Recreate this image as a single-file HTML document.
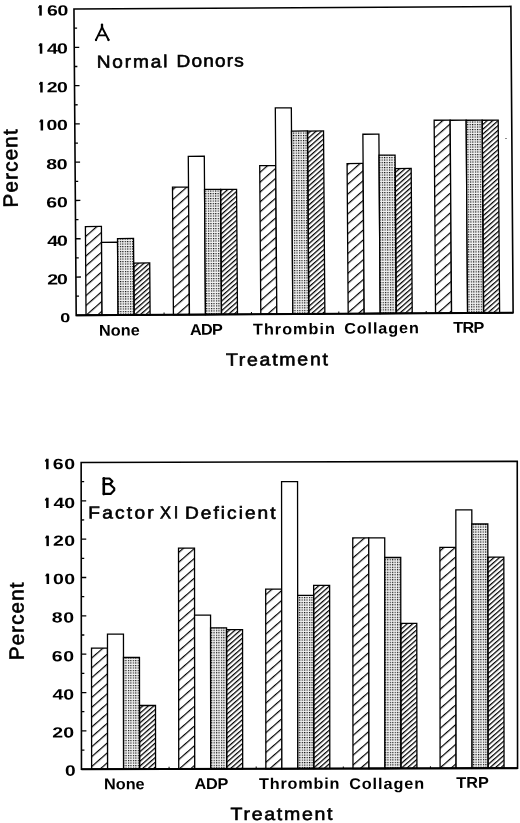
<!DOCTYPE html>
<html><head><meta charset="utf-8"><style>
html,body{margin:0;padding:0;background:#fff;}
svg{display:block;will-change:transform;}
text{font-family:"Liberation Sans",sans-serif;fill:#000;text-rendering:geometricPrecision;}
</style></head><body>
<svg width="520" height="823" viewBox="0 0 520 823">
<rect width="520" height="823" fill="#fff"/>
<defs><pattern id="h1A" patternUnits="userSpaceOnUse" width="20" height="7.434" patternTransform="rotate(-41) translate(0,-0.6)"><rect x="0" y="0" width="20" height="1.2" fill="#000"/></pattern><pattern id="h1B" patternUnits="userSpaceOnUse" width="20" height="7.434" patternTransform="rotate(-41) translate(0,-2.41)"><rect x="0" y="0" width="20" height="1.2" fill="#000"/></pattern><pattern id="h2A" patternUnits="userSpaceOnUse" width="20" height="3.62" patternTransform="rotate(-41) translate(0,1.08)"><rect x="0" y="0" width="20" height="1.25" fill="#000"/></pattern><pattern id="h2B" patternUnits="userSpaceOnUse" width="20" height="3.62" patternTransform="rotate(-41) translate(0,-0.98)"><rect x="0" y="0" width="20" height="1.25" fill="#000"/></pattern>
<pattern id="dots" patternUnits="userSpaceOnUse" width="2.45" height="2.5">
<rect x="0" y="0" width="2.45" height="2.5" fill="#f0f0f0"/>
<rect x="0" y="0" width="1.15" height="1.15" fill="#000"/></pattern>
</defs>
<g transform="matrix(1.000974,-0.006071,0.007257,0.998858,73.962,9.075)">
<rect x="9.85" y="217.78" width="16.00" height="88.82" fill="url(#h1A)" stroke="#000" stroke-width="1.3"/>
<rect x="25.85" y="233.70" width="16.00" height="72.90" fill="#fff" stroke="#000" stroke-width="1.3"/>
<rect x="41.85" y="229.99" width="16.00" height="76.61" fill="url(#dots)" stroke="#000" stroke-width="1.3"/>
<rect x="57.85" y="254.62" width="16.00" height="51.98" fill="url(#h2A)" stroke="#000" stroke-width="1.3"/>
<rect x="97.14" y="178.87" width="16.00" height="127.73" fill="url(#h1A)" stroke="#000" stroke-width="1.3"/>
<rect x="113.14" y="148.13" width="16.00" height="158.47" fill="#fff" stroke="#000" stroke-width="1.3"/>
<rect x="129.14" y="181.36" width="16.00" height="125.24" fill="url(#dots)" stroke="#000" stroke-width="1.3"/>
<rect x="145.14" y="181.46" width="16.00" height="125.14" fill="url(#h2A)" stroke="#000" stroke-width="1.3"/>
<rect x="184.43" y="157.87" width="16.00" height="148.73" fill="url(#h1A)" stroke="#000" stroke-width="1.3"/>
<rect x="200.43" y="100.20" width="16.00" height="206.40" fill="#fff" stroke="#000" stroke-width="1.3"/>
<rect x="216.43" y="123.43" width="16.00" height="183.17" fill="url(#dots)" stroke="#000" stroke-width="1.3"/>
<rect x="232.43" y="123.53" width="16.00" height="183.07" fill="url(#h2A)" stroke="#000" stroke-width="1.3"/>
<rect x="271.72" y="156.30" width="16.00" height="150.30" fill="url(#h1A)" stroke="#000" stroke-width="1.3"/>
<rect x="287.72" y="127.07" width="16.00" height="179.53" fill="#fff" stroke="#000" stroke-width="1.3"/>
<rect x="303.72" y="148.09" width="16.00" height="158.51" fill="url(#dots)" stroke="#000" stroke-width="1.3"/>
<rect x="319.72" y="161.60" width="16.00" height="145.00" fill="url(#h2A)" stroke="#000" stroke-width="1.3"/>
<rect x="359.01" y="113.48" width="16.00" height="193.12" fill="url(#h1A)" stroke="#000" stroke-width="1.3"/>
<rect x="375.01" y="113.58" width="16.00" height="193.02" fill="#fff" stroke="#000" stroke-width="1.3"/>
<rect x="391.01" y="113.68" width="16.00" height="192.92" fill="url(#dots)" stroke="#000" stroke-width="1.3"/>
<rect x="407.01" y="113.77" width="16.00" height="192.83" fill="url(#h2A)" stroke="#000" stroke-width="1.3"/>
<rect x="0" y="0" width="436.5" height="306.6" fill="none" stroke="#000" stroke-width="1.6"/>
<line x1="0" y1="306.6" x2="436.5" y2="306.6" stroke="#000" stroke-width="2.0"/>
<line x1="0" y1="287.44" x2="3" y2="287.44" stroke="#000" stroke-width="1.3"/>
<line x1="0" y1="268.28" x2="5" y2="268.28" stroke="#000" stroke-width="1.3"/>
<line x1="0" y1="249.11" x2="3" y2="249.11" stroke="#000" stroke-width="1.3"/>
<line x1="0" y1="229.95" x2="5" y2="229.95" stroke="#000" stroke-width="1.3"/>
<line x1="0" y1="210.79" x2="3" y2="210.79" stroke="#000" stroke-width="1.3"/>
<line x1="0" y1="191.62" x2="5" y2="191.62" stroke="#000" stroke-width="1.3"/>
<line x1="0" y1="172.46" x2="3" y2="172.46" stroke="#000" stroke-width="1.3"/>
<line x1="0" y1="153.30" x2="5" y2="153.30" stroke="#000" stroke-width="1.3"/>
<line x1="0" y1="134.14" x2="3" y2="134.14" stroke="#000" stroke-width="1.3"/>
<line x1="0" y1="114.98" x2="5" y2="114.98" stroke="#000" stroke-width="1.3"/>
<line x1="0" y1="95.81" x2="3" y2="95.81" stroke="#000" stroke-width="1.3"/>
<line x1="0" y1="76.65" x2="5" y2="76.65" stroke="#000" stroke-width="1.3"/>
<line x1="0" y1="57.49" x2="3" y2="57.49" stroke="#000" stroke-width="1.3"/>
<line x1="0" y1="38.32" x2="5" y2="38.32" stroke="#000" stroke-width="1.3"/>
<line x1="0" y1="19.16" x2="3" y2="19.16" stroke="#000" stroke-width="1.3"/>
<line x1="87.79" y1="306.6" x2="87.79" y2="304.40000000000003" stroke="#000" stroke-width="1"/>
<line x1="175.08" y1="306.6" x2="175.08" y2="304.40000000000003" stroke="#000" stroke-width="1"/>
<line x1="262.37" y1="306.6" x2="262.37" y2="304.40000000000003" stroke="#000" stroke-width="1"/>
<line x1="349.66" y1="306.6" x2="349.66" y2="304.40000000000003" stroke="#000" stroke-width="1"/>
</g>
<g transform="matrix(0.999084,-0.002520,0.000978,1.000652,81.150,462.450)">
<rect x="10.18" y="185.67" width="16.00" height="120.93" fill="url(#h1B)" stroke="#000" stroke-width="1.3"/>
<rect x="26.18" y="171.72" width="16.00" height="134.88" fill="#fff" stroke="#000" stroke-width="1.3"/>
<rect x="42.18" y="195.05" width="16.00" height="111.55" fill="url(#dots)" stroke="#000" stroke-width="1.3"/>
<rect x="58.18" y="243.06" width="16.00" height="63.54" fill="url(#h2B)" stroke="#000" stroke-width="1.3"/>
<rect x="97.38" y="85.86" width="16.00" height="220.74" fill="url(#h1B)" stroke="#000" stroke-width="1.3"/>
<rect x="113.38" y="152.86" width="16.00" height="153.74" fill="#fff" stroke="#000" stroke-width="1.3"/>
<rect x="129.38" y="165.59" width="16.00" height="141.01" fill="url(#dots)" stroke="#000" stroke-width="1.3"/>
<rect x="145.38" y="167.53" width="16.00" height="139.07" fill="url(#h2B)" stroke="#000" stroke-width="1.3"/>
<rect x="184.58" y="127.15" width="16.00" height="179.45" fill="url(#h1B)" stroke="#000" stroke-width="1.3"/>
<rect x="200.58" y="19.76" width="16.00" height="286.84" fill="#fff" stroke="#000" stroke-width="1.3"/>
<rect x="216.58" y="133.43" width="16.00" height="173.17" fill="url(#dots)" stroke="#000" stroke-width="1.3"/>
<rect x="232.58" y="123.38" width="16.00" height="183.22" fill="url(#h2B)" stroke="#000" stroke-width="1.3"/>
<rect x="271.78" y="76.11" width="16.00" height="230.49" fill="url(#h1B)" stroke="#000" stroke-width="1.3"/>
<rect x="287.78" y="76.15" width="16.00" height="230.45" fill="#fff" stroke="#000" stroke-width="1.3"/>
<rect x="303.78" y="95.77" width="16.00" height="210.83" fill="url(#dots)" stroke="#000" stroke-width="1.3"/>
<rect x="319.78" y="161.67" width="16.00" height="144.93" fill="url(#h2B)" stroke="#000" stroke-width="1.3"/>
<rect x="358.98" y="85.82" width="16.00" height="220.78" fill="url(#h1B)" stroke="#000" stroke-width="1.3"/>
<rect x="374.98" y="48.38" width="16.00" height="258.22" fill="#fff" stroke="#000" stroke-width="1.3"/>
<rect x="390.98" y="62.51" width="16.00" height="244.09" fill="url(#dots)" stroke="#000" stroke-width="1.3"/>
<rect x="406.98" y="95.63" width="16.00" height="210.97" fill="url(#h2B)" stroke="#000" stroke-width="1.3"/>
<rect x="0" y="0" width="436.5" height="306.6" fill="none" stroke="#000" stroke-width="1.6"/>
<line x1="0" y1="306.6" x2="436.5" y2="306.6" stroke="#000" stroke-width="2.0"/>
<line x1="0" y1="287.44" x2="3" y2="287.44" stroke="#000" stroke-width="1.3"/>
<line x1="0" y1="268.28" x2="5" y2="268.28" stroke="#000" stroke-width="1.3"/>
<line x1="0" y1="249.11" x2="3" y2="249.11" stroke="#000" stroke-width="1.3"/>
<line x1="0" y1="229.95" x2="5" y2="229.95" stroke="#000" stroke-width="1.3"/>
<line x1="0" y1="210.79" x2="3" y2="210.79" stroke="#000" stroke-width="1.3"/>
<line x1="0" y1="191.62" x2="5" y2="191.62" stroke="#000" stroke-width="1.3"/>
<line x1="0" y1="172.46" x2="3" y2="172.46" stroke="#000" stroke-width="1.3"/>
<line x1="0" y1="153.30" x2="5" y2="153.30" stroke="#000" stroke-width="1.3"/>
<line x1="0" y1="134.14" x2="3" y2="134.14" stroke="#000" stroke-width="1.3"/>
<line x1="0" y1="114.98" x2="5" y2="114.98" stroke="#000" stroke-width="1.3"/>
<line x1="0" y1="95.81" x2="3" y2="95.81" stroke="#000" stroke-width="1.3"/>
<line x1="0" y1="76.65" x2="5" y2="76.65" stroke="#000" stroke-width="1.3"/>
<line x1="0" y1="57.49" x2="3" y2="57.49" stroke="#000" stroke-width="1.3"/>
<line x1="0" y1="38.32" x2="5" y2="38.32" stroke="#000" stroke-width="1.3"/>
<line x1="0" y1="19.16" x2="3" y2="19.16" stroke="#000" stroke-width="1.3"/>
<line x1="87.70" y1="306.6" x2="87.70" y2="304.40000000000003" stroke="#000" stroke-width="1"/>
<line x1="174.90" y1="306.6" x2="174.90" y2="304.40000000000003" stroke="#000" stroke-width="1"/>
<line x1="262.10" y1="306.6" x2="262.10" y2="304.40000000000003" stroke="#000" stroke-width="1"/>
<line x1="349.30" y1="306.6" x2="349.30" y2="304.40000000000003" stroke="#000" stroke-width="1"/>
</g>
<text id="a160r" transform="translate(46.97,15.60) rotate(-0.4) scale(1.32,1)" x="0" y="0" font-size="14.80" font-weight="bold" textLength="16.27" lengthAdjust="spacing">60</text>
<text id="a140r" transform="translate(47.02,53.67) rotate(-0.4) scale(1.32,1)" x="0" y="0" font-size="14.80" font-weight="bold" textLength="15.83" lengthAdjust="spacing">40</text>
<text id="a120r" transform="translate(46.67,92.37) rotate(-0.4) scale(1.32,1)" x="0" y="0" font-size="14.80" font-weight="bold" textLength="16.12" lengthAdjust="spacing">20</text>
<text id="a100r" transform="translate(46.59,130.12) rotate(-0.4) scale(1.32,1)" x="0" y="0" font-size="14.80" font-weight="bold" textLength="16.06" lengthAdjust="spacing">00</text>
<text id="a80" transform="translate(46.25,169.26) rotate(-0.4) scale(1.32,1)" x="0" y="0" font-size="14.80" font-weight="bold" textLength="16.29" lengthAdjust="spacing">80</text>
<text id="a60" transform="translate(46.20,207.41) rotate(-0.4) scale(1.32,1)" x="0" y="0" font-size="14.80" font-weight="bold" textLength="16.44" lengthAdjust="spacing">60</text>
<text id="a40" transform="translate(47.33,245.91) rotate(-0.4) scale(1.32,1)" x="0" y="0" font-size="14.80" font-weight="bold" textLength="15.60" lengthAdjust="spacing">40</text>
<text id="a20" transform="translate(47.30,284.42) rotate(-0.4) scale(1.32,1)" x="0" y="0" font-size="14.80" font-weight="bold" textLength="15.68" lengthAdjust="spacing">20</text>
<text id="a0" transform="translate(60.23,322.17) rotate(-0.4) scale(1.0,1)" x="0" y="0" font-size="13.24" font-weight="bold" textLength="10.09" lengthAdjust="spacingAndGlyphs">0</text>
<text id="b160r" transform="translate(52.87,469.00) rotate(-0.12) scale(1.32,1)" x="0" y="0" font-size="14.80" font-weight="bold" textLength="16.85" lengthAdjust="spacing">60</text>
<text id="b140r" transform="translate(53.38,507.94) rotate(-0.12) scale(1.32,1)" x="0" y="0" font-size="14.80" font-weight="bold" textLength="16.41" lengthAdjust="spacing">40</text>
<text id="b120r" transform="translate(53.12,545.87) rotate(-0.12) scale(1.32,1)" x="0" y="0" font-size="14.80" font-weight="bold" textLength="16.71" lengthAdjust="spacing">20</text>
<text id="b100r" transform="translate(53.00,583.96) rotate(-0.12) scale(1.32,1)" x="0" y="0" font-size="14.80" font-weight="bold" textLength="16.75" lengthAdjust="spacing">00</text>
<text id="b80" transform="translate(51.81,622.41) rotate(-0.12) scale(1.32,1)" x="0" y="0" font-size="14.80" font-weight="bold" textLength="16.87" lengthAdjust="spacing">80</text>
<text id="b60" transform="translate(51.80,661.16) rotate(-0.12) scale(1.32,1)" x="0" y="0" font-size="14.80" font-weight="bold" textLength="17.00" lengthAdjust="spacing">60</text>
<text id="b40" transform="translate(52.59,699.55) rotate(-0.12) scale(1.32,1)" x="0" y="0" font-size="14.80" font-weight="bold" textLength="16.39" lengthAdjust="spacing">40</text>
<text id="b20" transform="translate(52.33,737.62) rotate(-0.12) scale(1.32,1)" x="0" y="0" font-size="14.80" font-weight="bold" textLength="16.50" lengthAdjust="spacing">20</text>
<text id="b0" transform="translate(65.01,775.67) rotate(-0.12) scale(1.0,1)" x="0" y="0" font-size="15.19" font-weight="bold" textLength="10.67" lengthAdjust="spacingAndGlyphs">0</text>
<text id="aPct" transform="translate(17.65,207.42) rotate(-90.4)" x="0" y="0" font-size="20.60" font-weight="normal" textLength="78.14" lengthAdjust="spacing" stroke="#000" stroke-width="0.6">Percent</text>
<text id="aND1" transform="translate(96.71,67.76) rotate(-0.4) scale(1.1,1)" x="0" y="0" font-size="17.40" font-weight="normal" textLength="64.45" lengthAdjust="spacing" stroke="#000" stroke-width="0.6">Normal</text>
<text id="aND2" transform="translate(176.53,66.91) rotate(-0.4) scale(1.1,1)" x="0" y="0" font-size="17.40" font-weight="normal" textLength="61.28" lengthAdjust="spacing" stroke="#000" stroke-width="0.6">Donors</text>
<text id="aNone" transform="translate(98.97,335.71) rotate(-0.4) scale(1.05,1)" x="0" y="0" font-size="15.50" font-weight="bold" textLength="39.00" lengthAdjust="spacing">None</text>
<text id="aADP" transform="translate(190.12,334.92) rotate(-0.4) scale(1.05,1)" x="0" y="0" font-size="15.50" font-weight="bold" textLength="31.22" lengthAdjust="spacing">ADP</text>
<text id="aThr" transform="translate(253.03,334.61) rotate(-0.4) scale(1.05,1)" x="0" y="0" font-size="15.50" font-weight="bold" textLength="77.92" lengthAdjust="spacing">Thrombin</text>
<text id="aCol" transform="translate(344.18,333.75) rotate(-0.4) scale(1.05,1)" x="0" y="0" font-size="15.50" font-weight="bold" textLength="71.18" lengthAdjust="spacing">Collagen</text>
<text id="aTRP" transform="translate(453.23,332.87) rotate(-0.4) scale(1.05,1)" x="0" y="0" font-size="15.50" font-weight="bold" textLength="29.56" lengthAdjust="spacing">TRP</text>
<text id="aTre" transform="translate(225.92,365.84) rotate(-0.4) scale(1.1,1)" x="0" y="0" font-size="17.80" font-weight="normal" textLength="92.72" lengthAdjust="spacing" stroke="#000" stroke-width="0.6">Treatment</text>
<text id="bPct" transform="translate(23.67,660.13) rotate(-90.12)" x="0" y="0" font-size="20.60" font-weight="normal" textLength="77.56" lengthAdjust="spacing" stroke="#000" stroke-width="0.6">Percent</text>
<text id="bFX1" transform="translate(88.27,518.59) rotate(-0.12) scale(1.1,1)" x="0" y="0" font-size="17.40" font-weight="normal" textLength="59.45" lengthAdjust="spacing" stroke="#000" stroke-width="0.6">Factor</text>
<text id="bFX2" transform="translate(160.02,518.39) rotate(-0.12) scale(0.95,1)" x="0" y="0" font-size="17.40" font-weight="normal" textLength="19.35" lengthAdjust="spacing" stroke="#000" stroke-width="0.6">XI</text>
<text id="bFX3" transform="translate(185.05,518.81) rotate(-0.12) scale(1.1,1)" x="0" y="0" font-size="17.40" font-weight="normal" textLength="82.22" lengthAdjust="spacing" stroke="#000" stroke-width="0.6">Deficient</text>
<text id="bNone" transform="translate(104.11,789.23) rotate(-0.12) scale(1.05,1)" x="0" y="0" font-size="15.50" font-weight="bold" textLength="38.52" lengthAdjust="spacing">None</text>
<text id="bADP" transform="translate(194.50,788.95) rotate(-0.12) scale(1.05,1)" x="0" y="0" font-size="15.50" font-weight="bold" textLength="32.15" lengthAdjust="spacing">ADP</text>
<text id="bThr" transform="translate(259.07,788.90) rotate(-0.12) scale(1.05,1)" x="0" y="0" font-size="15.50" font-weight="bold" textLength="76.46" lengthAdjust="spacing">Thrombin</text>
<text id="bCol" transform="translate(349.13,788.99) rotate(-0.12) scale(1.05,1)" x="0" y="0" font-size="15.50" font-weight="bold" textLength="71.45" lengthAdjust="spacing">Collagen</text>
<text id="bTRP" transform="translate(456.34,787.88) rotate(-0.12) scale(1.05,1)" x="0" y="0" font-size="15.50" font-weight="bold" textLength="30.91" lengthAdjust="spacing">TRP</text>
<text id="bTre" transform="translate(230.52,820.06) rotate(-0.12) scale(1.1,1)" x="0" y="0" font-size="17.80" font-weight="normal" textLength="92.75" lengthAdjust="spacing" stroke="#000" stroke-width="0.6">Treatment</text>
<path d="M96,39.8 L102,27.3 L108.5,39.8 M98.7,35.4 H105.6" fill="none" stroke="#000" stroke-width="1.9" stroke-linecap="round" stroke-linejoin="round"/>
<path d="M102,24.6 V28.2" fill="none" stroke="#000" stroke-width="2.3" stroke-linecap="round" stroke-linejoin="round"/>
<path d="M103.7,478.5 H109.5 L112.4,481.2 L109.8,484.2 H103.7 M109.8,484.2 L114.2,488.3 V490.2 L110.6,493.9 H103.7" fill="none" stroke="#000" stroke-width="2.2" stroke-linecap="round" stroke-linejoin="round"/>
<path d="M103.8,478.3 V494.1" fill="none" stroke="#000" stroke-width="2.6" stroke-linecap="round" stroke-linejoin="round"/>
<rect x="39.30" y="5.30" width="2.50" height="10.30" fill="#000"/>
<path d="M38.75,7.40 L39.90,5.90" stroke="#000" stroke-width="1.4" stroke-linecap="round"/>
<rect x="39.80" y="43.40" width="2.50" height="10.30" fill="#000"/>
<path d="M39.25,45.50 L40.40,44.00" stroke="#000" stroke-width="1.4" stroke-linecap="round"/>
<rect x="40.20" y="81.90" width="2.50" height="10.60" fill="#000"/>
<path d="M39.65,84.00 L40.80,82.50" stroke="#000" stroke-width="1.4" stroke-linecap="round"/>
<rect x="40.60" y="119.60" width="2.50" height="10.90" fill="#000"/>
<path d="M40.05,121.70 L41.20,120.20" stroke="#000" stroke-width="1.4" stroke-linecap="round"/>
<rect x="46.10" y="458.80" width="2.50" height="10.40" fill="#000"/>
<path d="M45.55,460.90 L46.70,459.40" stroke="#000" stroke-width="1.4" stroke-linecap="round"/>
<rect x="46.10" y="497.80" width="2.50" height="10.20" fill="#000"/>
<path d="M45.55,499.90 L46.70,498.40" stroke="#000" stroke-width="1.4" stroke-linecap="round"/>
<rect x="46.40" y="535.70" width="2.50" height="10.40" fill="#000"/>
<path d="M45.85,537.80 L47.00,536.30" stroke="#000" stroke-width="1.4" stroke-linecap="round"/>
<rect x="46.60" y="573.70" width="2.50" height="10.30" fill="#000"/>
<path d="M46.05,575.80 L47.20,574.30" stroke="#000" stroke-width="1.4" stroke-linecap="round"/>
<circle cx="506" cy="138.5" r="0.6" fill="#000"/>
<circle cx="96" cy="40" r="1.15" fill="#000"/>
<circle cx="108.5" cy="40" r="1.15" fill="#000"/>
</svg>
</body></html>
